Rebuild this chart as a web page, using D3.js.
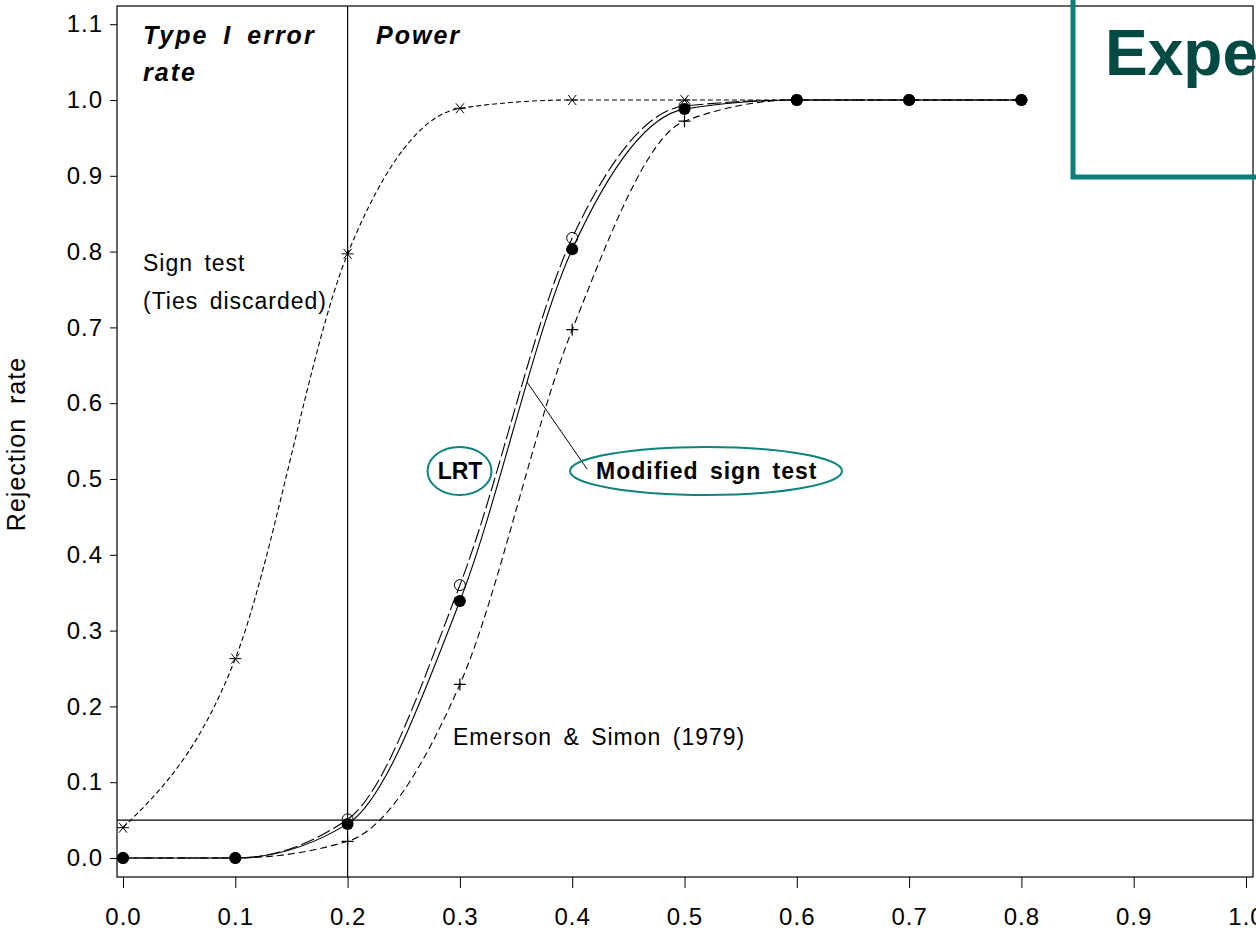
<!DOCTYPE html>
<html>
<head>
<meta charset="utf-8">
<script src="https://cdn.jsdelivr.net/npm/d3@7"></script>
<style>
  body { margin: 0; background: #fff; }
  svg { display: block; font-family: "Liberation Sans", Arial, sans-serif; }
</style>
</head>
<body>
<script>
'use strict';
// shift values (x) and rejection rates per test
var shifts = [0.0, 0.1, 0.2, 0.3, 0.4, 0.5, 0.6, 0.7, 0.8];
var signTest = [0.040, 0.263, 0.797, 0.989, 1.0, 1.0, 1.0, 1.0, 1.0];
var lrt = [0.0, 0.0, 0.051, 0.360, 0.818, 0.992, 1.0, 1.0, 1.0];
var modSign = [0.0, 0.0, 0.045, 0.339, 0.803, 0.988, 1.0, 1.0, 1.0];
var emerson = [0.0, 0.0, 0.022, 0.229, 0.697, 0.972, 1.0, 1.0, 1.0];
var xTicks = [0.0, 0.1, 0.2, 0.3, 0.4, 0.5, 0.6, 0.7, 0.8, 0.9, 1.0];
var yTicks = [0.0, 0.1, 0.2, 0.3, 0.4, 0.5, 0.6, 0.7, 0.8, 0.9, 1.0, 1.1];

var W = 1256, H = 932;
var frame = { left: 117, right: 1253, top: 6, bottom: 877 };

var svg = d3.select("body").append("svg")
    .attr("width", W).attr("height", H);

var x = d3.scaleLinear().domain([0, 1]).range([123, 1246]);
var y = d3.scaleLinear().domain([0, 1]).range([858, 100]);

// frame
svg.append("rect")
    .attr("x", frame.left).attr("y", frame.top)
    .attr("width", frame.right - frame.left)
    .attr("height", frame.bottom - frame.top)
    .attr("fill", "none").attr("stroke", "#000").attr("stroke-width", 1.2);

// axes
var xAxis = svg.append("g").attr("transform", "translate(0," + frame.bottom + ")");
xAxis.call(d3.axisBottom(x).tickValues(d3.range(0, 1.001, 0.02)).tickSize(6).tickFormat(""))
    .call(g => g.select(".domain").remove());
xAxis.call(d3.axisBottom(x).tickValues(xTicks).tickSize(11).tickFormat(d3.format(".1f")).tickPadding(20))
    .call(g => g.selectAll(".domain").remove());
xAxis.selectAll("text").attr("font-size", 24).attr("letter-spacing", 1)
    .attr("font-family", "Liberation Sans, Arial, sans-serif").attr("fill", "#000");
xAxis.selectAll("line").attr("stroke", "#000");

var yAxis = svg.append("g").attr("transform", "translate(" + frame.left + ",0)");
yAxis.call(d3.axisLeft(y).tickValues(d3.range(0, 1.121, 0.02)).tickSize(4).tickFormat(""))
    .call(g => g.select(".domain").remove());
yAxis.call(d3.axisLeft(y).tickValues(yTicks).tickSize(7).tickFormat(d3.format(".1f")).tickPadding(7))
    .call(g => g.selectAll(".domain").remove());
yAxis.selectAll("text").attr("font-size", 24).attr("letter-spacing", 1)
    .attr("font-family", "Liberation Sans, Arial, sans-serif").attr("fill", "#000");
yAxis.selectAll("line").attr("stroke", "#000");

svg.append("text")
    .attr("transform", "translate(25,444) rotate(-90)")
    .attr("text-anchor", "middle")
    .attr("font-size", 25).attr("letter-spacing", 1).attr("word-spacing", 6)
    .text("Rejection rate");

// reference lines
svg.append("line")
    .attr("x1", x(0.2)).attr("x2", x(0.2))
    .attr("y1", frame.top).attr("y2", frame.bottom)
    .attr("stroke", "#000").attr("stroke-width", 1.2);
svg.append("line")
    .attr("x1", frame.left).attr("x2", frame.right)
    .attr("y1", y(0.05)).attr("y2", y(0.05))
    .attr("stroke", "#000").attr("stroke-width", 1.2);

var line = d3.line().curve(d3.curveMonotoneX)
    .x((d, i) => x(shifts[i])).y(d => y(d));

var series = [
    { vals: signTest, dash: "5,3", marker: "star" },
    { vals: emerson, dash: "7,4", marker: "plus" },
    { vals: lrt, dash: "14,4", marker: "open" },
    { vals: modSign, dash: null, marker: "dot" }
];

series.forEach(function(s) {
    svg.append("path")
        .attr("d", line(s.vals))
        .attr("fill", "none").attr("stroke", "#000").attr("stroke-width", 1.1)
        .attr("stroke-dasharray", s.dash);
});

series.forEach(function(s) {
    var g = svg.append("g");
    s.vals.forEach(function(v, i) {
        var cx = x(shifts[i]), cy = y(v);
        if (s.marker === "dot") {
            g.append("circle").attr("cx", cx).attr("cy", cy).attr("r", 6).attr("fill", "#000");
        } else if (s.marker === "open") {
            g.append("circle").attr("cx", cx).attr("cy", cy).attr("r", 5.5)
                .attr("fill", "none").attr("stroke", "#000").attr("stroke-width", 1);
        } else if (s.marker === "plus") {
            g.append("path").attr("d", "M" + (cx - 6) + "," + cy + "h12M" + cx + "," + (cy - 6) + "v12")
                .attr("stroke", "#000").attr("stroke-width", 1.2);
        } else {
            g.append("path").attr("d", "M" + (cx - 6) + "," + cy + "h12M" + (cx - 4) + "," + (cy - 5) + "l8,10M" + (cx + 4) + "," + (cy - 5) + "l-8,10")
                .attr("stroke", "#000").attr("stroke-width", 1);
        }
    });
});

// annotations
var bi = svg.append("g").attr("font-size", 25).attr("font-weight", "bold").attr("font-style", "italic")
    .attr("letter-spacing", 2).attr("word-spacing", 6);
bi.append("text").attr("x", 143).attr("y", 44).text("Type I error");
bi.append("text").attr("x", 143).attr("y", 81).text("rate");
bi.append("text").attr("x", 376).attr("y", 44).text("Power");

var reg = svg.append("g").attr("font-size", 23).attr("letter-spacing", 1).attr("word-spacing", 4);
reg.append("text").attr("x", 143).attr("y", 271).text("Sign test");
reg.append("text").attr("x", 143).attr("y", 309).text("(Ties discarded)");
reg.append("text").attr("x", 453).attr("y", 745).text("Emerson & Simon (1979)");

svg.append("line").attr("x1", 587).attr("y1", 469).attr("x2", 527).attr("y2", 382)
    .attr("stroke", "#000").attr("stroke-width", 1);

var teal = "#0d847b";
svg.append("ellipse").attr("cx", 459.5).attr("cy", 471).attr("rx", 32).attr("ry", 24)
    .attr("fill", "none").attr("stroke", teal).attr("stroke-width", 2);
svg.append("text").attr("x", 460).attr("y", 479).attr("text-anchor", "middle")
    .attr("font-size", 23).attr("font-weight", "bold").text("LRT");
svg.append("ellipse").attr("cx", 706).attr("cy", 471).attr("rx", 136).attr("ry", 24)
    .attr("fill", "none").attr("stroke", teal).attr("stroke-width", 2);
svg.append("text").attr("x", 596).attr("y", 479)
    .attr("font-size", 23).attr("font-weight", "bold").attr("letter-spacing", 1).attr("word-spacing", 4)
    .text("Modified sign test");

// overlay box top right
svg.append("rect").attr("x", 1073).attr("y", -10).attr("width", 200).attr("height", 187)
    .attr("fill", "none").attr("stroke", "#0a8078").attr("stroke-width", 5);
svg.append("text").attr("x", 1105).attr("y", 75)
    .attr("font-size", 64).attr("font-weight", "bold").attr("fill", "#014a44").text("Expe");
</script>
</body>
</html>
